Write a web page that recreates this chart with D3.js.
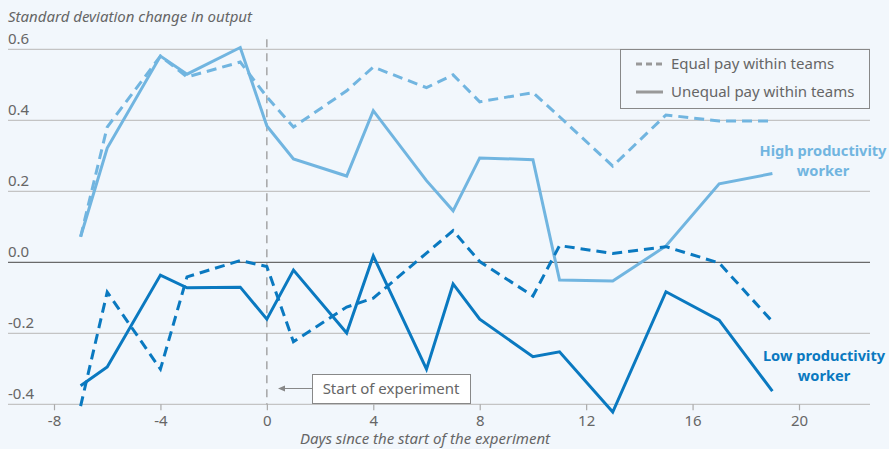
<!DOCTYPE html>
<html>
<head>
<meta charset="utf-8">
<script src="https://cdn.jsdelivr.net/npm/d3@7"></script>
<style>
  body { margin: 0; background: #f2f7fc; }
  svg { display: block; font-family: "Source Sans Pro", "Noto Sans", sans-serif; }
</style>
</head>
<body>
<div id="chart"></div>
<script>
// Days since start of experiment
var days = [-7, -6, -4, -3, -1, 0, 1, 3, 4, 6, 7, 8, 10, 11, 13, 15, 17, 19];

// High productivity worker
var highEqual   = [0.072, 0.381, 0.581, 0.522, 0.564, 0.466, 0.381, 0.483, 0.550, 0.492, 0.528, 0.452, 0.478, 0.410, 0.271, 0.415, 0.398, 0.398];
var highUnequal = [0.072, 0.322, 0.581, 0.530, 0.605, 0.384, 0.291, 0.243, 0.427, 0.230, 0.145, 0.294, 0.289, -0.050, -0.053, 0.046, 0.221, 0.250];

// Low productivity worker
var lowEqual   = [-0.405, -0.084, -0.301, -0.041, 0.005, -0.012, -0.224, -0.126, -0.101, 0.026, 0.089, 0.002, -0.095, 0.047, 0.025, 0.044, -0.002, -0.167];
var lowUnequal = [-0.348, -0.295, -0.036, -0.072, -0.070, -0.160, -0.022, -0.199, 0.018, -0.301, -0.061, -0.160, -0.266, -0.252, -0.422, -0.083, -0.163, -0.363];

var xTicks = [-8, -4, 0, 4, 8, 12, 16, 20];
var yTicks = [-0.4, -0.2, 0.0, 0.2, 0.4, 0.6];

var width = 889, height = 449;
var lightBlue = '#71b5e0', darkBlue = '#0a79c0', grey = '#666';
var fs = 15;

var svg = d3.select('#chart').append('svg')
    .attr('width', width)
    .attr('height', height);

// Scales
var x = d3.scaleLinear().domain([-8, 20]).range([54, 799]);
var y = d3.scaleLinear().domain([-0.4, 0.6]).range([404.3, 49.3]);
var gridLeft = 8, gridRight = 870;

// Gridlines + y labels
yTicks.forEach(function(t) {
    svg.append('line')
        .attr('x1', gridLeft).attr('x2', gridRight)
        .attr('y1', y(t)).attr('y2', y(t))
        .attr('stroke', t === 0 ? '#6a6a6a' : '#c4c4c4')
        .attr('stroke-width', t === 0 ? 1.3 : 1.2);
    svg.append('text')
        .attr('x', gridLeft).attr('y', y(t) - 5)
        .attr('font-size', fs).attr('fill', grey)
        .text(t === 0 ? '0.0' : d3.format('.1f')(t).replace('−', '-'));
});

// X axis ticks
var xAxis = d3.axisBottom(x).tickValues(xTicks).tickSize(6).tickPadding(5)
    .tickFormat(function(d) { return String(d); });
var gx = svg.append('g')
    .attr('transform', 'translate(0,' + y(-0.4) + ')')
    .call(xAxis);
gx.select('.domain').remove();
gx.selectAll('line').attr('stroke', '#aaa').attr('stroke-width', 1.2);
gx.selectAll('text').attr('fill', grey).attr('font-size', fs)
    .style('font-family', '"Source Sans Pro", "Noto Sans", sans-serif');

// Start of experiment line
svg.append('line')
    .attr('x1', x(0)).attr('x2', x(0))
    .attr('y1', y(0.6) - 10).attr('y2', y(-0.4))
    .attr('stroke', '#999').attr('stroke-width', 1.3)
    .attr('stroke-dasharray', '8,6');

// Series
var line = d3.line()
    .x(function(d, i) { return x(days[i]); })
    .y(function(d) { return y(d); });

var series = [
    {data: highUnequal, color: lightBlue, dash: null},
    {data: highEqual, color: lightBlue, dash: '10,6'},
    {data: lowEqual, color: darkBlue, dash: '10,6'},
    {data: lowUnequal, color: darkBlue, dash: null}
];
series.forEach(function(s) {
    svg.append('path')
        .datum(s.data)
        .attr('d', line)
        .attr('fill', 'none')
        .attr('stroke', s.color)
        .attr('stroke-width', 3)
        .attr('stroke-linejoin', 'miter')
        .attr('stroke-dasharray', s.dash);
});

// Axis titles
svg.append('text')
    .attr('x', 8).attr('y', 22)
    .attr('font-size', fs).attr('font-style', 'italic').attr('fill', grey)
    .text('Standard deviation change in output');
svg.append('text')
    .attr('x', 425).attr('y', 444)
    .attr('text-anchor', 'middle')
    .attr('font-size', fs).attr('font-style', 'italic').attr('fill', grey)
    .text('Days since the start of the experiment');

// Legend
var legend = svg.append('g');
legend.append('rect')
    .attr('x', 620.5).attr('y', 49.5).attr('width', 249).attr('height', 59)
    .attr('fill', '#f2f7fc').attr('stroke', '#888').attr('stroke-width', 1);
[{label: 'Equal pay within teams', dash: '6,4', yy: 64},
 {label: 'Unequal pay within teams', dash: null, yy: 92}].forEach(function(l) {
    legend.append('line')
        .attr('x1', 636).attr('x2', 663).attr('y1', l.yy).attr('y2', l.yy)
        .attr('stroke', '#999').attr('stroke-width', 3)
        .attr('stroke-dasharray', l.dash);
    legend.append('text')
        .attr('x', 671).attr('y', l.yy + 5)
        .attr('font-size', fs).attr('fill', grey)
        .text(l.label);
});

// Series labels
function label(lines, cx, cy, color) {
    var t = svg.append('text')
        .attr('text-anchor', 'middle')
        .attr('font-size', 14.6).attr('font-weight', 'bold').attr('fill', color);
    lines.forEach(function(s, i) {
        t.append('tspan').attr('x', cx).attr('y', cy + i * 20).text(s);
    });
}
label(['High productivity', 'worker'], 823, 156, lightBlue);
label(['Low productivity', 'worker'], 824, 361, darkBlue);

// Annotation
svg.append('rect')
    .attr('x', 312.5).attr('y', 374.5).attr('width', 158).attr('height', 29)
    .attr('fill', '#fff').attr('stroke', '#888').attr('stroke-width', 1);
svg.append('text')
    .attr('x', 391).attr('y', 394)
    .attr('text-anchor', 'middle')
    .attr('font-size', fs).attr('fill', grey)
    .text('Start of experiment');
svg.append('line')
    .attr('x1', 312).attr('x2', 282).attr('y1', 388.5).attr('y2', 388.5)
    .attr('stroke', '#888').attr('stroke-width', 1);
svg.append('path')
    .attr('d', 'M278,388.5 L285,385.5 L285,391.5 Z')
    .attr('fill', '#888');
</script>
</body>
</html>
